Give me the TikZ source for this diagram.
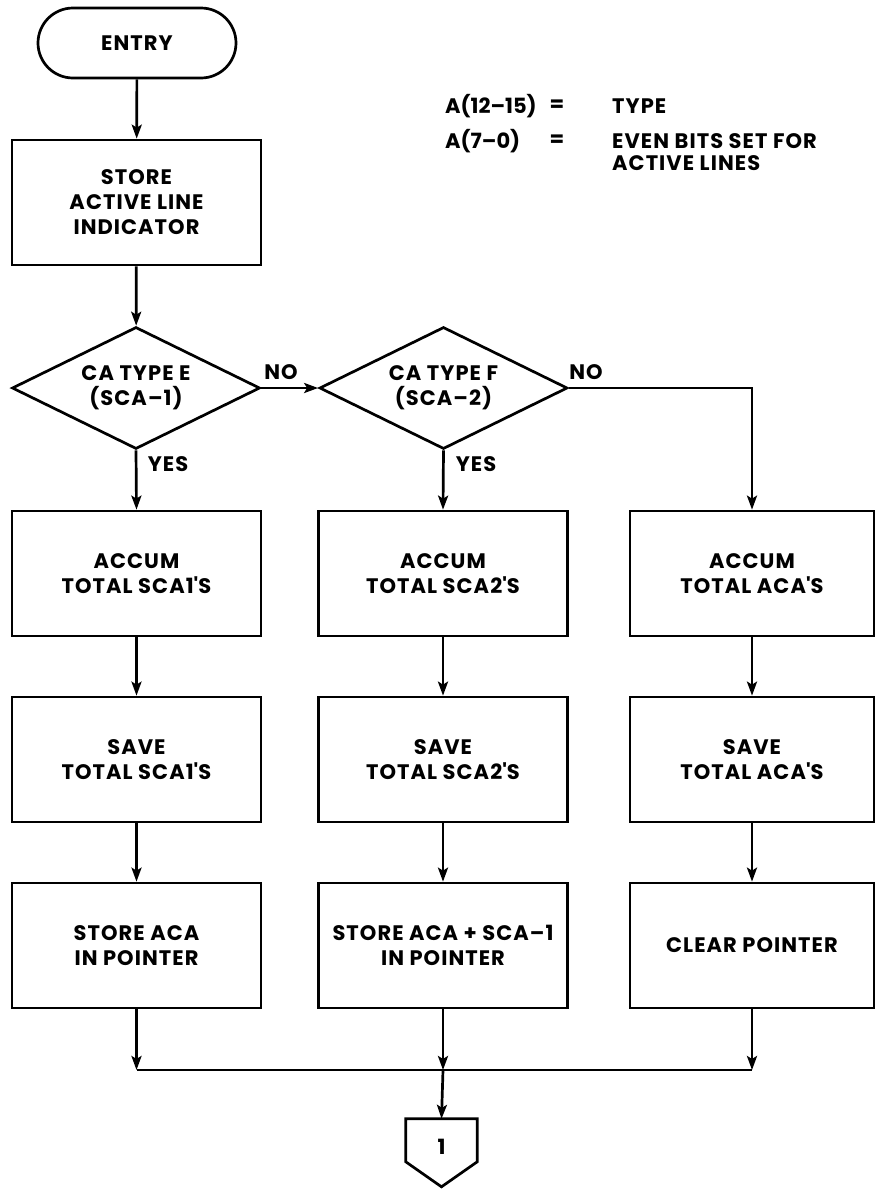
\documentclass[tikz,border=0pt]{standalone}
\usepackage{fontspec}
\setmainfont{Poppins}[LetterSpace=5]
\usetikzlibrary{shapes.geometric,arrows.meta,calc}
\begin{document}
\begin{tikzpicture}[x=1pt,y=-1pt,
  every node/.style={font=\bfseries\fontsize{21}{25}\selectfont},
  line/.style={line width=2.7pt},
  arr/.style={line width=2.7pt,-{Stealth[length=14pt,width=10pt,inset=3pt]}},
  term/.style={draw,line width=2.7pt,rounded corners=35pt,minimum width=198pt,minimum height=70pt,inner sep=0pt},
  proc/.style={draw,line width=2.7pt,minimum width=249pt,minimum height=125pt,align=center,inner sep=0pt},
  dec/.style={draw,diamond,aspect=2,line width=2.7pt,minimum width=248pt,minimum height=122pt,align=center,inner sep=0pt},
  lbl/.style={inner sep=0pt},
]
\useasboundingbox (0,0) rectangle (875,1189);

% legend
\node[lbl,anchor=west,font=\bfseries\fontsize{21}{25}\selectfont\addfontfeature{LetterSpace=0}] (l1a) at (445,106) {A(12--15)};
\node[lbl] (l1b) at (557,106) {=};
\node[lbl,anchor=west] (l1c) at (612,106) {TYPE};
\node[lbl,anchor=west,font=\bfseries\fontsize{21}{25}\selectfont\addfontfeature{LetterSpace=0}] (l2a) at (445,141) {A(7--0)};
\node[lbl] (l2b) at (557,141) {=};
\node[lbl,anchor=north west,align=left,font=\bfseries\fontsize{21}{22}\selectfont] (l2c) at (612,133) {EVEN BITS SET FOR\\ACTIVE LINES};

% main column
\node[term] (entry) at (137,43) {ENTRY};
\node[proc] (store) at (136.5,202.5) {STORE\\ACTIVE LINE\\INDICATOR};
\node[dec] (d1) at (136,388) {CA TYPE E\\(SCA--1)};
\node[dec] (d2) at (443.5,388) {CA TYPE F\\(SCA--2)};

% rows
\node[proc] (a1) at (136.5,573.5) {ACCUM\\TOTAL SCA1\textquotesingle S};
\node[proc] (a2) at (443,573.5) {ACCUM\\TOTAL SCA2\textquotesingle S};
\node[proc,minimum width=244pt] (a3) at (752,573.5) {ACCUM\\TOTAL ACA\textquotesingle S};
\node[proc] (b1) at (136.5,759.5) {SAVE\\TOTAL SCA1\textquotesingle S};
\node[proc] (b2) at (443,759.5) {SAVE\\TOTAL SCA2\textquotesingle S};
\node[proc,minimum width=244pt] (b3) at (752,759.5) {SAVE\\TOTAL ACA\textquotesingle S};
\node[proc] (c1) at (136.5,945.5) {STORE ACA\\IN POINTER};
\node[proc] (c2) at (443,945.5) {STORE ACA + SCA--1\\IN POINTER};
\node[proc,minimum width=244pt] (c3) at (752,945.5) {CLEAR POINTER};

% off-page connector
\node[lbl,minimum width=71pt,minimum height=56pt] (off) at (441.5,1147) {1};
\draw[line,line join=miter] (off.north west) -- (off.north east) -- ++(0,43)
  -- ($(off.north)+(0,68)$) -- ($(off.north west)+(0,43)$) -- cycle;

% connectors
\draw[arr] (entry) -- (store);
\draw[arr] (store) -- (d1);
\draw[arr] (d1.east) -- (d2.west);
\node[lbl] (no1) at (281,372) {NO};
\node[lbl] (no2) at (586,372) {NO};
\draw[arr] (d1.south) -- (a1.north);
\draw[arr] (d2.south) -- (a2.north);
\node[lbl] (yes1) at (168,464) {YES};
\node[lbl] (yes2) at (476,464) {YES};
\draw[arr] (d2.east) -- (d2.east -| a3.north) -- (a3.north);
\draw[arr] (a1) -- (b1);
\draw[arr] (a2) -- (b2);
\draw[arr] (a3) -- (b3);
\draw[arr] (b1) -- (c1);
\draw[arr] (b2) -- (c2);
\draw[arr] (b3) -- (c3);
\coordinate (m1) at (c1.south |- 0,1070);
\coordinate (m2) at (c2.south |- 0,1070);
\coordinate (m3) at (c3.south |- 0,1070);
\draw[arr] (c1.south) -- (m1);
\draw[arr] (c2.south) -- (m2);
\draw[arr] (c3.south) -- (m3);
\draw[line] (m1) -- (m3);
\draw[arr] (m2) -- (off.north);
\end{tikzpicture}
\end{document}
